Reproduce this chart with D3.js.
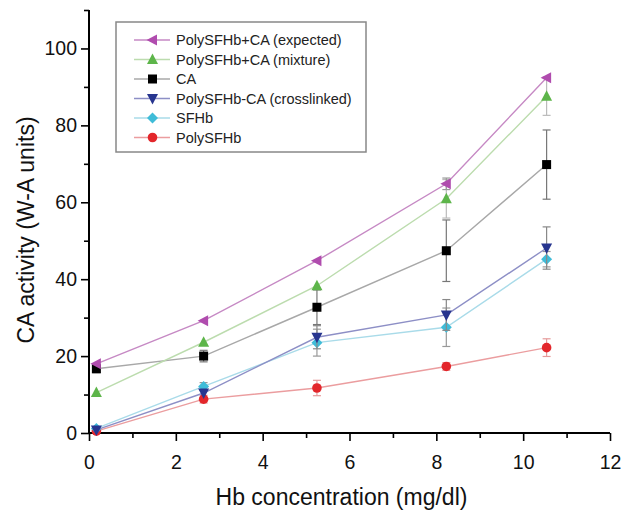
<!DOCTYPE html>
<html>
<head>
<meta charset="utf-8">
<script src="https://cdn.jsdelivr.net/npm/d3@7"></script>
<style>
  body { margin: 0; background: #fff; }
  svg { font-family: "Liberation Sans", Arial, sans-serif; }
</style>
</head>
<body>
<svg id="canvas" width="633" height="518"></svg>
<script>
// Hb concentration (mg/dl)
let xValues = [0.17, 2.64, 5.25, 8.23, 10.54]

let seriesNames = ['PolySFHb+CA (expected)', 'PolySFHb+CA (mixture)', 'CA',
  'PolySFHb-CA (crosslinked)', 'SFHb', 'PolySFHb']

let expectedValues = [18, 29.2, 44.8, 64.8, 92.4]
let mixtureValues = [10.5, 23.6, 38.3, 60.9, 87.6]
let caValues = [16.7, 20, 32.7, 47.4, 69.8]
let crosslinkedValues = [0.8, 10.4, 24.9, 30.7, 48.1]
let sfhbValues = [1.2, 12.1, 23.5, 27.5, 45.2]
let polySfhbValues = [0.5, 8.8, 11.7, 17.3, 22.2]

let expectedErr = [0, 0, 0, 1.5, 0]
let mixtureErr = [0, 0, 0, 5, 5]
let caErr = [1, 1.5, 4.5, 8, 9]
let crosslinkedErr = [0, 0, 3, 4, 5.5]
let sfhbErr = [0, 1, 3.5, 5, 2]
let polySfhbErr = [0, 1, 2, 1, 2.3]

let xTicks = [0, 2, 4, 6, 8, 10, 12]
let yTicks = [0, 20, 40, 60, 80, 100]

let allValues = [expectedValues, mixtureValues, caValues, crosslinkedValues, sfhbValues, polySfhbValues]
let allErrors = [expectedErr, mixtureErr, caErr, crosslinkedErr, sfhbErr, polySfhbErr]
let markerColors = ['#b04cae', '#5db54a', '#000000', '#27358f', '#3fbcd8', '#e3262b']
let lineColors = ['#c689c4', '#bcdcae', '#a8a8a8', '#8d8fc6', '#a9dbe9', '#eb9d9f']
let errColors = ['#999', '#bbb', '#777', '#888', '#999', '#e59a9a']
let shapes = ['left', 'up', 'square', 'down', 'diamond', 'circle']

let svg = d3.select('#canvas')
let plotLeft = 89, plotRight = 610, plotTop = 10, plotBottom = 433

let x = d3.scaleLinear().domain([0, 12]).range([plotLeft, plotRight])
let y = d3.scaleLinear().domain([0, 110]).range([plotBottom, plotTop])

// axes
svg.append('g')
  .attr('class', 'x-axis')
  .attr('transform', 'translate(0,' + plotBottom + ')')
  .call(d3.axisBottom(x).tickValues(xTicks).tickSize(8).tickPadding(14).tickFormat(d3.format('d')))
svg.append('g')
  .attr('transform', 'translate(0,' + plotBottom + ')')
  .call(d3.axisBottom(x).tickValues([1, 3, 5, 7, 9, 11]).tickSize(5).tickFormat(''))
  .select('.domain').remove()

svg.append('g')
  .attr('class', 'y-axis')
  .attr('transform', 'translate(' + plotLeft + ',0)')
  .call(d3.axisLeft(y).tickValues(yTicks).tickSize(8).tickPadding(4))
svg.append('g')
  .attr('transform', 'translate(' + plotLeft + ',0)')
  .call(d3.axisLeft(y).tickValues([10, 30, 50, 70, 90, 110]).tickSize(5).tickFormat(''))
  .select('.domain').remove()

svg.select('.x-axis .domain').attr('d', 'M' + plotLeft + ',0H' + plotRight)
svg.select('.y-axis .domain').attr('d', 'M0,' + plotBottom + 'V' + plotTop)
svg.selectAll('.domain').attr('stroke-width', 2)
svg.selectAll('.tick line').attr('stroke-width', 1.6)
svg.selectAll('.tick text').attr('font-size', 19.5).attr('fill', '#111')

svg.append('text')
  .attr('x', (plotLeft + plotRight) / 2 - 8)
  .attr('y', 505)
  .attr('text-anchor', 'middle')
  .attr('font-size', 23)
  .attr('fill', '#111')
  .text('Hb concentration (mg/dl)')
svg.append('text')
  .attr('transform', 'translate(34,230) rotate(-90)')
  .attr('text-anchor', 'middle')
  .attr('font-size', 23)
  .attr('fill', '#111')
  .text('CA activity (W-A units)')

let drawMarker = (g, shape, cx, cy, color) => {
  let s = 5.5
  if (shape === 'circle') {
    g.append('circle').attr('cx', cx).attr('cy', cy).attr('r', 4.8).attr('fill', color)
  } else if (shape === 'square') {
    g.append('rect').attr('x', cx - 4.5).attr('y', cy - 4.5).attr('width', 9).attr('height', 9).attr('fill', color)
  } else {
    let pts
    if (shape === 'up') pts = [[cx, cy - s - 0.5], [cx - s, cy + s - 1], [cx + s, cy + s - 1]]
    else if (shape === 'down') pts = [[cx, cy + s + 0.5], [cx - s, cy - s + 1], [cx + s, cy - s + 1]]
    else if (shape === 'left') pts = [[cx - s - 0.5, cy], [cx + s - 1, cy - s], [cx + s - 1, cy + s]]
    else pts = [[cx, cy - s], [cx + s, cy], [cx, cy + s], [cx - s, cy]]
    g.append('polygon').attr('points', pts.map(p => p.join(',')).join(' ')).attr('fill', color)
  }
}

let line = d3.line().x((d, i) => x(xValues[i])).y(d => y(d))

// draw back to front
for (let k = allValues.length - 1; k >= 0; k--) {
  let values = allValues[k]
  let errs = allErrors[k]
  let g = svg.append('g')
  g.append('path')
    .attr('d', line(values))
    .attr('fill', 'none')
    .attr('stroke', lineColors[k])
    .attr('stroke-width', 1.4)
  values.forEach((v, i) => {
    if (errs[i] > 0) {
      let cx = x(xValues[i])
      g.append('line').attr('x1', cx).attr('x2', cx)
        .attr('y1', y(v - errs[i])).attr('y2', y(v + errs[i]))
        .attr('stroke', errColors[k]).attr('stroke-width', 1.2)
      ;[v - errs[i], v + errs[i]].forEach(e => {
        g.append('line').attr('x1', cx - 4).attr('x2', cx + 4)
          .attr('y1', y(e)).attr('y2', y(e))
          .attr('stroke', errColors[k]).attr('stroke-width', 1.2)
      })
    }
  })
  values.forEach((v, i) => drawMarker(g, shapes[k], x(xValues[i]), y(v), markerColors[k]))
}

// legend
let legend = svg.append('g')
legend.append('rect')
  .attr('x', 116).attr('y', 22)
  .attr('width', 250).attr('height', 130)
  .attr('fill', '#fff')
  .attr('stroke', '#888')
  .attr('stroke-width', 1.5)
seriesNames.forEach((name, k) => {
  let ly = 40 + k * 19.5
  legend.append('line')
    .attr('x1', 134).attr('x2', 170)
    .attr('y1', ly).attr('y2', ly)
    .attr('stroke', lineColors[k]).attr('stroke-width', 1.4)
  drawMarker(legend, shapes[k], 152.5, ly, markerColors[k])
  legend.append('text')
    .attr('x', 176).attr('y', ly + 5)
    .attr('font-size', 14.5)
    .attr('fill', '#222')
    .text(name)
})
</script>
</body>
</html>
